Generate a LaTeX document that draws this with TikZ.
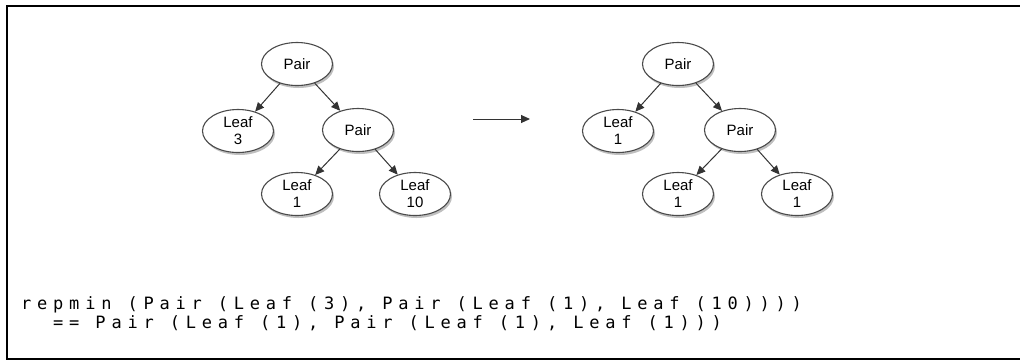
\documentclass[tikz,border=0pt]{standalone}
\usepackage{fontspec}
\setmainfont{Liberation Sans}
\newfontfamily\codefont[LetterSpace=34]{DejaVu Sans Mono}
\usetikzlibrary{arrows.meta,shadows,shapes.geometric}
\definecolor{nodeline}{HTML}{4A4A4A}
\definecolor{edgecol}{HTML}{333333}
\begin{document}
\begin{tikzpicture}[x=1pt,y=-1pt,
  tnode/.style={ellipse,draw=nodeline,line width=1.1pt,fill=white,
    minimum width=71pt,minimum height=43pt,inner sep=0pt,align=center,
    font=\fontsize{15}{17}\selectfont,
    drop shadow={shadow xshift=1.5pt,shadow yshift=-2.5pt,opacity=0.25,fill=black}},
  tedge/.style={draw=edgecol,line width=1pt,-{Triangle[length=9pt,width=8pt]}},
  codeline/.style={anchor=base west,inner sep=0pt,font=\codefont\fontsize{17}{21}\selectfont}]
\useasboundingbox (0,0) rectangle (1020,360);
\draw[line width=2pt] (7,6) rectangle (1030,359);
% left tree
\node[tnode] (a) at (297,64) {Pair};
\node[tnode] (b) at (238,131) {Leaf\\3};
\node[tnode] (c) at (358,130) {Pair};
\node[tnode] (d) at (297,194) {Leaf\\1};
\node[tnode] (e) at (415,194) {Leaf\\10};
\draw[tedge] (a) -- (b);
\draw[tedge] (a) -- (c);
\draw[tedge] (c) -- (d);
\draw[tedge] (c) -- (e);
% arrow
\coordinate (m1) at (473,119);
\coordinate (m2) at (530,119);
\draw[tedge] (m1) -- (m2);
% right tree
\node[tnode] (A) at (678,64) {Pair};
\node[tnode] (B) at (618,131) {Leaf\\1};
\node[tnode] (C) at (740,130) {Pair};
\node[tnode] (D) at (678,194) {Leaf\\1};
\node[tnode] (E) at (797,194) {Leaf\\1};
\draw[tedge] (A) -- (B);
\draw[tedge] (A) -- (C);
\draw[tedge] (C) -- (D);
\draw[tedge] (C) -- (E);
% code
\node[codeline] (l1) at (21,309) {repmin (Pair (Leaf (3), Pair (Leaf (1), Leaf (10))))};
\node[codeline] (l2) at (21,328) {\ \ == Pair (Leaf (1), Pair (Leaf (1), Leaf (1)))};
\end{tikzpicture}
\end{document}
